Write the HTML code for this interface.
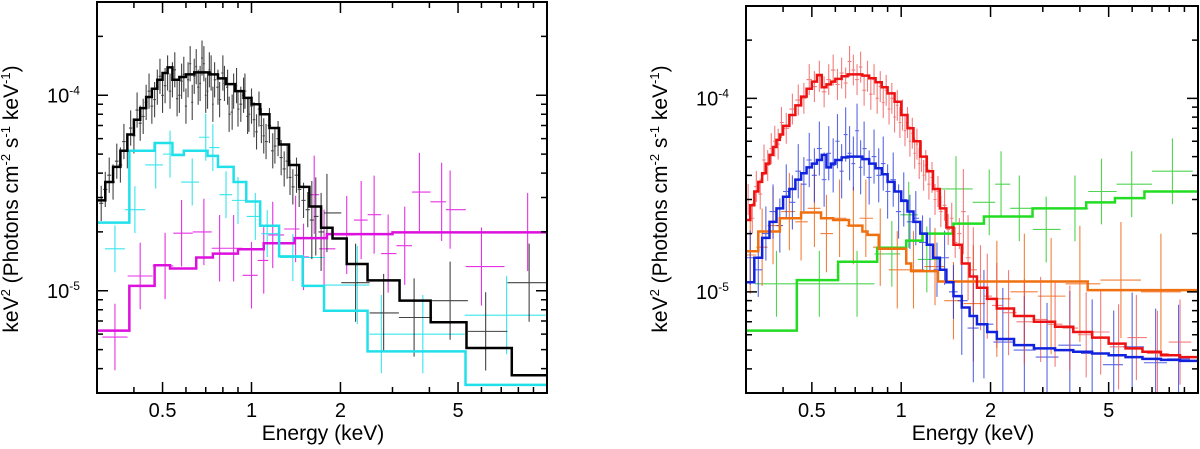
<!DOCTYPE html>
<html><head><meta charset="utf-8"><style>
html,body{margin:0;padding:0;background:#fff;}
svg{display:block;font-family:"Liberation Sans",Arial,sans-serif;}
</style></head><body>
<svg id="fig" width="1200" height="449" viewBox="0 0 1200 449" xmlns="http://www.w3.org/2000/svg"></svg>
<script>
// ---------- axis ranges ----------
const xTickMajor = [0.5, 1, 2, 5];
const xTickLabels = ["0.5", "1", "2", "5"];
const xTickMinor = [0.3,0.4,0.6,0.7,0.8,0.9,3,4,6,7,8,9];
const yTickMajor = [1e-4, 1e-5];
const yTickLabels = ["-4", "-5"];
const yTickMinor = [3e-6,4e-6,5e-6,6e-6,7e-6,8e-6,9e-6,2e-5,3e-5,4e-5,5e-5,6e-5,7e-5,8e-5,9e-5,2e-4,3e-4];

// ---------- left panel models ----------
const blackModelE = [0.30,0.32,0.34,0.36,0.38,0.40,0.42,0.44,0.46,0.48,0.50,0.52,0.54,0.57,0.60,0.64,0.68,0.72,0.77,0.82,0.88,0.94,1.0,1.07,1.15,1.24,1.34,1.45,1.57,1.72,1.88,2.1,2.47,3.17,4.04,5.34,7.6,10];
const blackModelV = [2.9e-5,3.6e-5,4.3e-5,5.2e-5,6.3e-5,7.5e-5,8.6e-5,9.8e-5,1.08e-4,1.2e-4,1.3e-4,1.39e-4,1.2e-4,1.24e-4,1.28e-4,1.31e-4,1.31e-4,1.28e-4,1.22e-4,1.14e-4,1.05e-4,9.7e-5,9.0e-5,8.0e-5,6.8e-5,5.6e-5,4.4e-5,3.4e-5,2.7e-5,2.1e-5,1.85e-5,1.37e-5,1.13e-5,8.9e-6,6.9e-6,5.1e-6,3.7e-6];
const cyanModelE = [0.30,0.386,0.47,0.54,0.59,0.71,0.77,0.87,0.96,1.07,1.24,1.49,1.76,2.47,5.3,10];
const cyanModelV = [2.23e-5,5.2e-5,5.7e-5,4.95e-5,5.2e-5,4.9e-5,4.3e-5,3.6e-5,2.86e-5,2.15e-5,1.5e-5,1.06e-5,7.9e-6,4.9e-6,3.3e-6];
const magentaModelE = [0.30,0.386,0.47,0.53,0.65,0.74,0.9,1.1,1.4,1.8,3.0,10];
const magentaModelV = [6.25e-6,1.06e-5,1.35e-5,1.3e-5,1.48e-5,1.55e-5,1.63e-5,1.75e-5,1.86e-5,1.95e-5,1.99e-5];

// ---------- left panel data ----------
const blackDataE = [0.31,0.32,0.33,0.34,0.35,0.36,0.37,0.38,0.39,0.40,0.41,0.42,0.43,0.44,0.45,0.46,0.47,0.48,0.49,0.50,0.51,0.52,0.53,0.54,0.55,0.56,0.57,0.58,0.59,0.60,0.61,0.62,0.63,0.64,0.65,0.66,0.67,0.68,0.69,0.70,0.71,0.72,0.73,0.74,0.75,0.77,0.78,0.80,0.81,0.83,0.84,0.86,0.87,0.89,0.90,0.92,0.94,0.95,0.97,0.98,1.0,1.02,1.04,1.06,1.08,1.1,1.12,1.15,1.18,1.2,1.23,1.26,1.29,1.32,1.35,1.38,1.42,1.45,1.5,1.55,1.6,1.65,1.72,1.8,2.25,2.8,3.55,4.7,6.2,8.7];
const blackDataV = [2.8e-5,3.3e-5,3.9e-5,3.6e-5,4.6e-5,4.4e-5,5.8e-5,5.2e-5,6.8e-5,6.2e-5,8.4e-5,7.2e-5,7.8e-5,9.2e-5,1.05e-4,8.8e-5,9.5e-5,1.1e-4,1.25e-4,1.0e-4,1.12e-4,1.3e-4,1.05e-4,1.2e-4,1.35e-4,9.6e-5,1.0e-4,1.18e-4,1.28e-4,8.8e-5,1.2e-4,1.45e-4,9.2e-5,1.25e-4,1.4e-4,1.1e-4,1.15e-4,1.55e-4,1.45e-4,1.0e-4,1.05e-4,1.35e-4,1.3e-4,9.0e-5,1.2e-4,1.1e-4,9.5e-5,1.3e-4,1.15e-4,1.1e-4,8.0e-5,8.2e-5,1.05e-4,1.12e-4,8.5e-5,9.0e-5,1.0e-4,1.05e-4,7.8e-5,8.0e-5,8.8e-5,7.5e-5,6.5e-5,8.5e-5,7.0e-5,6.2e-5,5.8e-5,7.0e-5,5.2e-5,5.5e-5,6.0e-5,4.8e-5,4.2e-5,4.6e-5,3.8e-5,3.4e-5,3.9e-5,3.3e-5,2.9e-5,2.6e-5,2.3e-5,2.4e-5,2.0e-5,2.5e-5,1.1e-5,7.7e-6,7.3e-6,8.9e-6,6.2e-6,1.1e-5];
const cyanDataE = [0.345,0.403,0.474,0.53,0.63,0.70,0.74,0.82,0.90,1.03,1.13,1.38,2.28,2.75,3.8,7.3];
const cyanDataV = [1.64e-5,2.6e-5,4.4e-5,5.0e-5,3.6e-5,6.1e-5,5.4e-5,3.1e-5,2.9e-5,2.4e-5,1.96e-5,1.48e-5,1.07e-5,6.0e-6,6.0e-6,7.5e-6];
const magentaDataE = [0.345,0.42,0.51,0.58,0.69,0.78,0.87,1.0,1.1,1.18,1.41,1.5,1.63,1.76,2.1,2.35,2.6,2.9,3.3,3.7,4.4,4.7,6.0,8.6];
const magentaDataV = [5.8e-6,1.19e-5,1.34e-5,1.97e-5,2.0e-5,1.65e-5,1.65e-5,1.2e-5,1.43e-5,1.93e-5,2.07e-5,1.49e-5,3.1e-5,1.64e-5,1.93e-5,2.3e-5,2.45e-5,1.55e-5,1.7e-5,3.2e-5,2.85e-5,2.6e-5,1.33e-5,2.0e-5];

// ---------- right panel models ----------
const redModelE = [0.30,0.31,0.32,0.33,0.34,0.35,0.36,0.37,0.38,0.39,0.40,0.42,0.44,0.46,0.48,0.50,0.52,0.54,0.56,0.58,0.60,0.63,0.66,0.70,0.74,0.78,0.82,0.86,0.90,0.95,1.0,1.05,1.1,1.16,1.22,1.28,1.35,1.42,1.5,1.6,1.7,1.8,1.95,2.1,2.4,2.8,3.3,3.8,4.4,5.0,5.7,6.5,7.5,8.7,10];
const redModelV = [2.35e-5,2.8e-5,3.3e-5,3.7e-5,4.1e-5,4.6e-5,5.1e-5,5.6e-5,6.1e-5,6.5e-5,7.2e-5,8.2e-5,9.2e-5,1.02e-4,1.12e-4,1.22e-4,1.32e-4,1.14e-4,1.18e-4,1.22e-4,1.26e-4,1.30e-4,1.33e-4,1.33e-4,1.31e-4,1.27e-4,1.21e-4,1.14e-4,1.06e-4,9.6e-5,8.2e-5,7.0e-5,6.0e-5,5.0e-5,4.2e-5,3.4e-5,2.7e-5,2.15e-5,1.75e-5,1.4e-5,1.2e-5,1.05e-5,9.2e-6,8.2e-6,7.5e-6,7.0e-6,6.6e-6,6.2e-6,5.8e-6,5.4e-6,5.1e-6,4.9e-6,4.7e-6,4.6e-6];
const blueModelE = [0.30,0.32,0.34,0.36,0.38,0.40,0.42,0.44,0.46,0.48,0.50,0.52,0.54,0.56,0.58,0.60,0.63,0.66,0.70,0.74,0.78,0.82,0.86,0.90,0.95,1.0,1.05,1.1,1.16,1.22,1.28,1.35,1.42,1.5,1.6,1.7,1.8,1.95,2.1,2.4,2.8,3.3,3.8,4.4,5.0,5.7,6.5,7.5,8.7,10];
const blueModelV = [1.12e-5,1.5e-5,1.9e-5,2.3e-5,2.7e-5,3.1e-5,3.4e-5,3.8e-5,4.1e-5,4.4e-5,4.6e-5,4.8e-5,5.1e-5,4.4e-5,4.6e-5,4.8e-5,4.95e-5,5.0e-5,5.0e-5,4.85e-5,4.6e-5,4.35e-5,4.05e-5,3.7e-5,3.3e-5,2.95e-5,2.6e-5,2.3e-5,2.0e-5,1.75e-5,1.5e-5,1.3e-5,1.12e-5,9.5e-6,8.3e-6,7.5e-6,6.8e-6,6.2e-6,5.7e-6,5.3e-6,5.1e-6,5.0e-6,4.9e-6,4.8e-6,4.7e-6,4.6e-6,4.5e-6,4.45e-6,4.4e-6];
const orangeModelE = [0.30,0.33,0.39,0.46,0.537,0.59,0.667,0.74,0.77,0.84,1.04,1.08,1.33,4.25,10];
const orangeModelV = [1.62e-5,2.05e-5,2.4e-5,2.57e-5,2.4e-5,2.35e-5,2.2e-5,2.05e-5,1.97e-5,1.67e-5,1.4e-5,1.28e-5,1.13e-5,1.02e-5];
const greenModelE = [0.30,0.445,0.613,0.83,1.04,1.18,1.5,1.9,2.77,4.2,5.25,6.6,10];
const greenModelV = [6.3e-6,1.15e-5,1.43e-5,1.69e-5,1.84e-5,2.0e-5,2.25e-5,2.45e-5,2.7e-5,2.9e-5,3.05e-5,3.3e-5];

// ---------- right panel data ----------
const redDataE = [0.305,0.315,0.325,0.335,0.345,0.355,0.365,0.375,0.385,0.395,0.41,0.43,0.45,0.47,0.49,0.51,0.53,0.55,0.57,0.59,0.61,0.63,0.65,0.67,0.69,0.71,0.73,0.75,0.77,0.79,0.81,0.83,0.85,0.87,0.89,0.91,0.93,0.95,0.97,0.99,1.01,1.03,1.05,1.07,1.09,1.11,1.13,1.15,1.17,1.19,1.21,1.24,1.27,1.30,1.33,1.36,1.40,1.44,1.48,1.52,1.57,1.62,1.68,1.75,1.85,1.95,2.1,2.3,2.6,2.95,3.3,3.7,4.2,4.7,5.4,6.2,7.3,8.7];
const redDataV = [3.0e-5,2.4e-5,3.5e-5,3.2e-5,4.8e-5,4.5e-5,5.5e-5,6.0e-5,5.8e-5,7.5e-5,7.0e-5,8.8e-5,9.8e-5,1.0e-4,1.25e-4,1.15e-4,1.3e-4,1.08e-4,1.25e-4,1.4e-4,1.18e-4,1.35e-4,1.2e-4,1.55e-4,1.4e-4,1.25e-4,1.45e-4,1.1e-4,1.3e-4,1.05e-4,1.25e-4,1.0e-4,1.15e-4,9.5e-5,1.1e-4,8.8e-5,1.0e-4,8.0e-5,9.2e-5,7.5e-5,8.2e-5,6.8e-5,7.5e-5,6.0e-5,6.6e-5,5.2e-5,5.8e-5,4.6e-5,5.0e-5,4.0e-5,4.5e-5,3.6e-5,3.9e-5,3.0e-5,3.3e-5,2.6e-5,2.8e-5,2.1e-5,2.4e-5,1.8e-5,2.0e-5,2.6e-5,1.5e-5,1.3e-5,1.05e-5,9.5e-6,8.5e-6,7.8e-6,7.0e-6,7.2e-6,6.8e-6,6.5e-6,6.0e-6,6.2e-6,5.2e-6,5.8e-6,4.8e-6,5.5e-6];
const blueDataE = [0.31,0.33,0.35,0.37,0.39,0.41,0.43,0.45,0.47,0.49,0.51,0.53,0.55,0.57,0.59,0.61,0.63,0.65,0.67,0.69,0.71,0.73,0.75,0.78,0.81,0.84,0.87,0.90,0.94,0.98,1.02,1.07,1.12,1.18,1.25,1.32,1.40,1.5,1.6,1.75,1.9,2.2,2.6,3.1,3.7,4.4,5.2,6.0,7.2,8.6];
const blueDataV = [1.5e-5,1.3e-5,2.0e-5,2.6e-5,2.2e-5,3.3e-5,2.9e-5,4.2e-5,3.6e-5,4.8e-5,4.0e-5,5.5e-5,3.8e-5,5.2e-5,4.5e-5,6.0e-5,4.2e-5,6.5e-5,5.2e-5,4.6e-5,6.8e-5,4.4e-5,5.5e-5,3.9e-5,5.0e-5,4.0e-5,4.6e-5,3.3e-5,3.8e-5,2.6e-5,3.0e-5,2.3e-5,2.4e-5,1.8e-5,1.75e-5,1.3e-5,1.5e-5,1.0e-5,9.0e-6,6.5e-6,6.8e-6,5.5e-6,5.0e-6,4.6e-6,5.3e-6,4.8e-6,4.2e-6,5.2e-6,4.3e-6,4.5e-6];
const orangeDataE = [0.31,0.34,0.37,0.42,0.46,0.51,0.56,0.62,0.69,0.76,0.85,0.97,1.1,1.3,1.5,1.75,2.1,2.6,3.2,4.0,5.5,7.5];
const orangeDataV = [1.55e-5,1.7e-5,2.2e-5,2.6e-5,2.3e-5,2.7e-5,2.0e-5,2.4e-5,2.2e-5,2.4e-5,1.7e-5,1.3e-5,1.3e-5,1.35e-5,9.0e-6,8.7e-6,9.2e-6,1.0e-5,9.5e-6,1.1e-5,1.15e-5,1.0e-5];
const greenDataE = [0.38,0.53,0.71,0.93,1.06,1.22,1.53,1.98,2.17,2.5,3.08,3.85,4.73,5.98,8.2];
const greenDataV = [1.1e-5,1.1e-5,1.1e-5,1.57e-5,2.5e-5,1.47e-5,3.4e-5,2.9e-5,3.6e-5,2.7e-5,2.1e-5,2.7e-5,3.3e-5,3.6e-5,4.2e-5];

// ---------- drawing ----------
const NS = "http://www.w3.org/2000/svg";
const svg = document.getElementById('fig');
function mk(tag, parent) { const e = document.createElementNS(NS, tag); parent.appendChild(e); return e; }

function makePanel(name, x0, x1, y0, y1) {
  const xmin = 0.3, xmax = 10, ymin = 3e-6, ymax = 3e-4;
  const xs = e => x0 + (Math.log10(e) - Math.log10(xmin)) / (Math.log10(xmax) - Math.log10(xmin)) * (x1 - x0);
  const ys = v => y1 - (Math.log10(v) - Math.log10(ymin)) / (Math.log10(ymax) - Math.log10(ymin)) * (y1 - y0);
  const g = mk('g', svg);
  
  
  const clipId = name + '-clip';
  const cp = mk('clipPath', g); cp.setAttribute('id', clipId);
  const cr = mk('rect', cp);
  cr.setAttribute('x', x0); cr.setAttribute('y', y0); cr.setAttribute('width', x1 - x0); cr.setAttribute('height', y1 - y0);
  const plot = mk('g', g);
  plot.setAttribute('clip-path', 'url(#' + clipId + ')');
  
  
  return { g, plot, xs, ys, x0, x1, y0, y1 };
}

function drawAxes(P, ylabelX) {
  const { g, xs, ys, x0, x1, y0, y1 } = P;
  const ax = mk('g', g);
  
  
  let d = '';
  xTickMajor.forEach(e => { const x = xs(e); d += `M${x},${y1}v-11M${x},${y0}v11`; });
  xTickMinor.forEach(e => { const x = xs(e); d += `M${x},${y1}v-6M${x},${y0}v6`; });
  yTickMajor.forEach(v => { const y = ys(v); d += `M${x0},${y}h11M${x1},${y}h-11`; });
  yTickMinor.forEach(v => { const y = ys(v); if (y > y0 + 1 && y < y1 - 1) d += `M${x0},${y}h6M${x1},${y}h-6`; });
  const t = mk('path', ax);
  
  
  t.setAttribute('d', d); t.setAttribute('stroke', '#000'); t.setAttribute('stroke-width', '1.5'); t.setAttribute('fill', 'none');
  const box = mk('rect', ax);
  
  
  box.setAttribute('x', x0); box.setAttribute('y', y0); box.setAttribute('width', x1 - x0); box.setAttribute('height', y1 - y0);
  box.setAttribute('fill', 'none'); box.setAttribute('stroke', '#000'); box.setAttribute('stroke-width', '2');
  xTickMajor.forEach((e, i) => {
    const tx = mk('text', ax);
    
    
    tx.setAttribute('x', xs(e)); tx.setAttribute('y', 417); tx.setAttribute('text-anchor', 'middle'); tx.setAttribute('font-size', '20');
    tx.textContent = xTickLabels[i];
  });
  yTickMajor.forEach((v, i) => {
    const tx = mk('text', ax);
    
    
    tx.setAttribute('x', x0 - 50); tx.setAttribute('y', ys(v) + 7); tx.setAttribute('font-size', '20');
    tx.textContent = '10';
    const sp = mk('tspan', tx);
    sp.setAttribute('font-size', '12'); sp.setAttribute('dy', '-8');
    sp.textContent = yTickLabels[i];
  });
  const xl = mk('text', ax);
  
  
  xl.setAttribute('x', (x0 + x1) / 2 + 1); xl.setAttribute('y', 440); xl.setAttribute('text-anchor', 'middle'); xl.setAttribute('font-size', '21');
  xl.textContent = 'Energy (keV)';
  const yl = mk('text', ax);
  
  
  yl.setAttribute('transform', `translate(${ylabelX},199) rotate(-90)`);
  yl.setAttribute('text-anchor', 'middle'); yl.setAttribute('font-size', '21');
  yl.innerHTML = 'keV<tspan font-size="13" dy="-8">2</tspan><tspan dy="8"> (Photons cm</tspan><tspan font-size="13" dy="-8">-2</tspan><tspan dy="8"> s</tspan><tspan font-size="13" dy="-8">-1</tspan><tspan dy="8"> keV</tspan><tspan font-size="13" dy="-8">-1</tspan><tspan dy="8">)</tspan>';
}

function drawModel(P, E, V, color, name, w) {
  let d = '';
  for (let i = 0; i < V.length; i++) {
    const xa = P.xs(E[i]), xb = P.xs(E[i + 1]), y = P.ys(V[i]);
    d += (i === 0 ? `M${xa},${y}` : `L${xa},${y}`) + `L${xb},${y}`;
  }
  const p = mk('path', P.plot);
  
  
  p.setAttribute('d', d); p.setAttribute('fill', 'none'); p.setAttribute('stroke', color); p.setAttribute('stroke-width', w || 2.5);
}

function drawData(P, E, V, color, name, errLow, errHigh, opacity) {
  const g = mk('g', P.plot);
  
  
  let d = '';
  for (let i = 0; i < E.length; i++) {
    const lo = i > 0 ? Math.sqrt(E[i - 1] * E[i]) : E[i] * E[i] / Math.sqrt(E[i] * E[i + 1]);
    const hi = i < E.length - 1 ? Math.sqrt(E[i] * E[i + 1]) : E[i] * E[i] / Math.sqrt(E[i - 1] * E[i]);
    const err = E[i] < 1.6 ? errLow : errHigh;
    const x = P.xs(E[i]), y = P.ys(V[i]);
    d += `M${P.xs(lo)},${y}H${P.xs(hi)}M${x},${P.ys(V[i] * Math.pow(10, err))}V${P.ys(V[i] / Math.pow(10, err))}`;
  }
  const p = mk('path', g);
  p.setAttribute('d', d); p.setAttribute('fill', 'none'); p.setAttribute('stroke', color); p.setAttribute('stroke-width', '1.1');
  p.setAttribute('stroke-opacity', opacity || 1);
}

// Left panel
const L = makePanel('left-panel', 97, 547, 2, 393);
drawData(L, magentaDataE, magentaDataV, '#e31ce3', 'magenta-data', 0.17, 0.2, 0.9);
drawData(L, cyanDataE, cyanDataV, '#22e2ea', 'cyan-data', 0.12, 0.2, 0.9);
drawData(L, blackDataE, blackDataV, '#222', 'black-data', 0.09, 0.2, 0.85);
drawModel(L, magentaModelE, magentaModelV, '#dd11dd', 'magenta-model');
drawModel(L, cyanModelE, cyanModelV, '#22e0ea', 'cyan-model');
drawModel(L, blackModelE, blackModelV, '#000', 'black-model');
drawAxes(L, 18);

// Right panel
const R = makePanel('right-panel', 746, 1198, 6, 393);
drawData(R, greenDataE, greenDataV, '#33cc33', 'green-data', 0.17, 0.17, 0.85);
drawData(R, orangeDataE, orangeDataV, '#f06a1a', 'orange-data', 0.2, 0.3, 0.85);
drawData(R, blueDataE, blueDataV, '#2233dd', 'blue-data', 0.14, 0.28, 0.75);
drawData(R, redDataE, redDataV, '#f04444', 'red-data', 0.08, 0.22, 0.7);
drawModel(R, greenModelE, greenModelV, '#22dd22', 'green-model');
drawModel(R, orangeModelE, orangeModelV, '#f07010', 'orange-model');
drawModel(R, blueModelE, blueModelV, '#1122dd', 'blue-model');
drawModel(R, redModelE, redModelV, '#ee1111', 'red-model');
drawAxes(R, 667);
</script>
</body></html>
